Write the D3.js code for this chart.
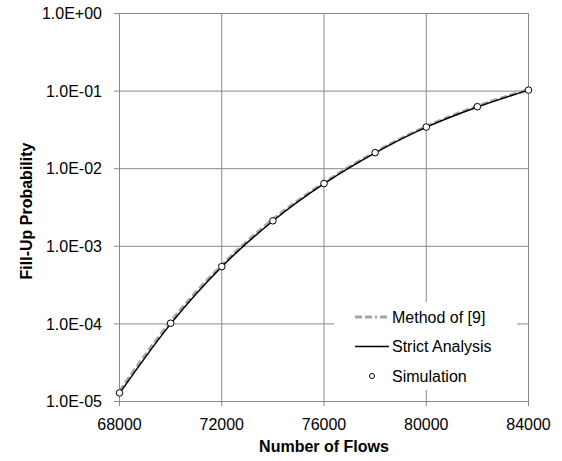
<!DOCTYPE html>
<html>
<head>
<meta charset="utf-8">
<script src="https://cdn.jsdelivr.net/npm/d3@7"></script>
<style>
  body { margin: 0; background: #fff; }
  text { font-family: 'Liberation Sans', Arial, sans-serif; fill: #000; }
</style>
</head>
<body>
<div id="chart"></div>
<script>
// valeurs
var flows = [68000, 70000, 72000, 74000, 76000, 78000, 80000, 82000, 84000]
var method9 = [1.36e-5, 1.07e-4, 5.7e-4, 2.22e-3, 6.6e-3, 1.64e-2, 3.5e-2, 6.4e-2, 1.05e-1]
var strict = [1.27e-5, 1.0e-4, 5.45e-4, 2.12e-3, 6.4e-3, 1.6e-2, 3.43e-2, 6.25e-2, 1.03e-1]
var simulation = [1.29e-5, 1.02e-4, 5.48e-4, 2.13e-3, 6.44e-3, 1.61e-2, 3.44e-2, 6.3e-2, 1.03e-1]
var xTicks = [68000, 72000, 76000, 80000, 84000]
var yTicks = [1e-5, 1e-4, 1e-3, 1e-2, 1e-1, 1]
var yLabels = ['1.0E-05', '1.0E-04', '1.0E-03', '1.0E-02', '1.0E-01', '1.0E+00']
var legendNames = ['Method of [9]', 'Strict Analysis', 'Simulation']

var width = 562
var height = 461
var gridColor = '#898989'
var fontSize = '16px'

var svg = d3.select('#chart').append('svg')
    .attr('width', width)
    .attr('height', height)

var x = d3.scaleLinear().domain([68000, 84000]).range([119.5, 528.5])
var y = d3.scaleLog().domain([1e-5, 1]).range([401.5, 13.5])

// grille
svg.append('g').selectAll('line.h')
    .data(yTicks)
    .enter().append('line')
    .attr('x1', 114).attr('x2', x(84000))
    .attr('y1', function (d) { return y(d) }).attr('y2', function (d) { return y(d) })
    .attr('stroke', gridColor)

svg.append('g').selectAll('line.v')
    .data(xTicks)
    .enter().append('line')
    .attr('x1', function (d) { return x(d) }).attr('x2', function (d) { return x(d) })
    .attr('y1', y(1)).attr('y2', 406)
    .attr('stroke', gridColor)

// étiquettes des axes
svg.append('g').selectAll('text')
    .data(yTicks)
    .enter().append('text')
    .attr('x', 102)
    .attr('y', function (d) { return y(d) })
    .attr('dy', '0.35em')
    .attr('text-anchor', 'end')
    .style('font-size', fontSize)
    .text(function (d, i) { return yLabels[i] })

svg.append('g').selectAll('text')
    .data(xTicks)
    .enter().append('text')
    .attr('x', function (d) { return x(d) })
    .attr('y', 430)
    .attr('text-anchor', 'middle')
    .style('font-size', fontSize)
    .text(function (d) { return d })

svg.append('text')
    .attr('x', 324)
    .attr('y', 452)
    .attr('text-anchor', 'middle')
    .style('font-size', fontSize)
    .style('font-weight', 'bold')
    .text('Number of Flows')

svg.append('text')
    .attr('transform', 'translate(32,211) rotate(-90)')
    .attr('text-anchor', 'middle')
    .style('font-size', fontSize)
    .style('font-weight', 'bold')
    .text('Fill-Up Probability')

// courbes
function lineOf(values) {
    return d3.line()
        .x(function (d, i) { return x(flows[i]) })
        .y(function (d) { return y(d) })
        .curve(d3.curveMonotoneX)(values)
}

svg.append('path')
    .attr('d', lineOf(method9))
    .attr('fill', 'none')
    .attr('stroke', '#a6a6a6')
    .attr('stroke-width', 3)
    .attr('stroke-dasharray', '7,3')

svg.append('path')
    .attr('d', lineOf(strict))
    .attr('fill', 'none')
    .attr('stroke', '#000')
    .attr('stroke-width', 1.5)

svg.append('g').selectAll('circle')
    .data(simulation)
    .enter().append('circle')
    .attr('cx', function (d, i) { return x(flows[i]) })
    .attr('cy', function (d) { return y(d) })
    .attr('r', 3.3)
    .attr('fill', '#fff')
    .attr('stroke', '#000')
    .attr('stroke-width', 1)

// légende
var legend = svg.append('g')
legend.append('rect')
    .attr('x', 334).attr('y', 302)
    .attr('width', 183).attr('height', 88)
    .attr('fill', '#fff')

var rows = legend.selectAll('g.row')
    .data(legendNames)
    .enter().append('g')
    .attr('transform', function (d, i) { return 'translate(0,' + (317 + i * 29.5) + ')' })

rows.append('text')
    .attr('x', 392)
    .attr('dy', '0.35em')
    .style('font-size', fontSize)
    .text(function (d) { return d })

rows.filter(function (d, i) { return i === 0 }).append('line')
    .attr('x1', 355).attr('x2', 390)
    .attr('stroke', '#a6a6a6').attr('stroke-width', 3)
    .attr('stroke-dasharray', '7,3,7,3,2,3')

rows.filter(function (d, i) { return i === 1 }).append('line')
    .attr('x1', 355).attr('x2', 389)
    .attr('stroke', '#000').attr('stroke-width', 1.5)

rows.filter(function (d, i) { return i === 2 }).append('circle')
    .attr('cx', 372).attr('r', 2.5)
    .attr('fill', '#fff').attr('stroke', '#000')
</script>
</body>
</html>
